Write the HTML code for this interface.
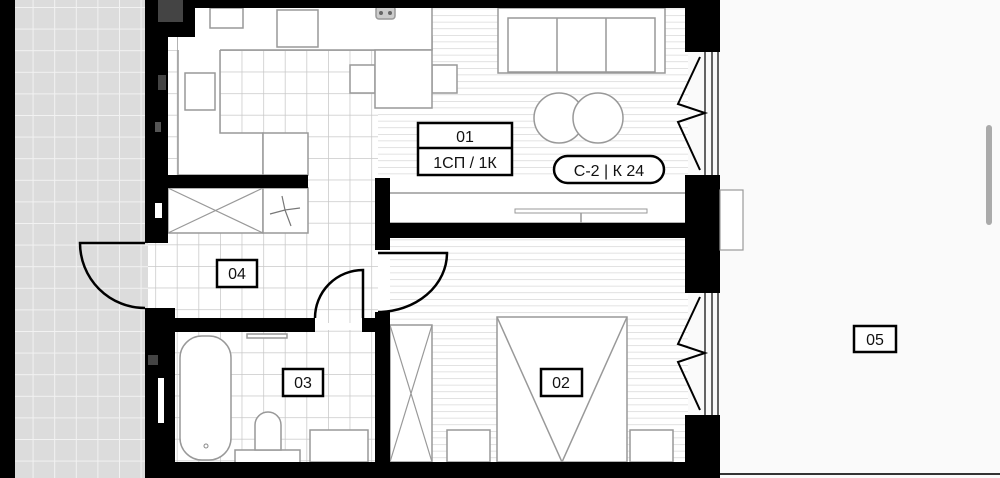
<!DOCTYPE html>
<html><head><meta charset="utf-8"><style>
html,body{margin:0;padding:0;background:#fafafa;overflow:hidden}
svg{display:block}
text{font-family:"Liberation Sans",sans-serif;fill:#111}
</style></head><body>
<svg width="1000" height="478" viewBox="0 0 1000 478" xmlns="http://www.w3.org/2000/svg">
<defs>
<pattern id="grid" x="11" y="7" width="21.6" height="21.6" patternUnits="userSpaceOnUse">
<rect width="21.6" height="21.6" fill="#dcdcdc"/>
<path d="M0 0H21.6M0 0V21.6" stroke="#f2f2f2" stroke-width="2"/>
</pattern>
<pattern id="tile" x="220" y="50" width="21.6" height="21.6" patternUnits="userSpaceOnUse">
<rect width="21.6" height="21.6" fill="#fff"/>
<path d="M0 0H21.6M0 0V21.6" stroke="#c8c8c8" stroke-width="1.5"/>
</pattern>
<pattern id="wood" x="0" y="2" width="10" height="6.6" patternUnits="userSpaceOnUse">
<rect width="10" height="6.6" fill="#fff"/>
<path d="M0 0H10" stroke="#cfcfcf" stroke-width="1.2"/>
</pattern>
</defs>
<rect width="1000" height="478" fill="#fafafa"/>
<!-- left exterior -->
<rect x="0" y="0" width="15" height="478" fill="#000"/>
<rect x="15" y="0" width="133" height="478" fill="url(#grid)"/>
<!-- apartment interior base -->
<rect x="148" y="8" width="540" height="460" fill="#fff"/>
<rect x="168" y="50" width="210" height="190" fill="url(#tile)"/>
<rect x="148" y="233" width="230" height="90" fill="url(#tile)"/>
<rect x="175" y="330" width="200" height="135" fill="url(#tile)"/>
<rect x="378" y="8" width="310" height="172" fill="url(#wood)"/>
<rect x="390" y="238" width="298" height="226" fill="url(#wood)"/>
<!-- kitchen -->
<g fill="#fff" stroke="#999" stroke-width="1.5">
<path d="M178 37 H432 V50 H220 V133 H263 V175 H178 Z"/>
<rect x="178" y="8" width="254" height="42" stroke="none"/>
<path d="M178 37 V8 M432 8 V50 M220 50 H432"/>
<rect x="210" y="8" width="33" height="20"/>
<rect x="277" y="10" width="41" height="37"/>
<rect x="185" y="73" width="30" height="37"/>
<rect x="263" y="133" width="45" height="42"/>
<rect x="350" y="65" width="25" height="28"/>
<rect x="432" y="65" width="25" height="28"/>
<rect x="375" y="50" width="57" height="58"/>
<rect x="376" y="6" width="19" height="13" rx="3" fill="#ccc"/>
</g>
<circle cx="381" cy="13" r="2" fill="#666"/><circle cx="390" cy="13" r="2" fill="#666"/>
<!-- sofa -->
<g fill="#fff" stroke="#999" stroke-width="1.5">
<rect x="498" y="8" width="167" height="65"/>
<rect x="508" y="18" width="147" height="54"/>
<path d="M557 18V72M606 18V72"/>
<circle cx="559" cy="118" r="25"/>
<circle cx="598" cy="118" r="25"/>
</g>
<!-- wardrobe strip living -->
<rect x="388" y="193" width="300" height="30" fill="#fff" stroke="#999" stroke-width="1.5"/>
<rect x="515" y="209" width="132" height="4" fill="#fff" stroke="#999"/>
<path d="M581 213V223" stroke="#999" stroke-width="1.5"/>
<!-- storage -->
<rect x="168" y="188" width="95" height="45" fill="#fff" stroke="#999" stroke-width="1.5"/>
<path d="M168 188L263 233M263 188L168 233" stroke="#999" stroke-width="1.2"/>
<rect x="263" y="188" width="45" height="45" fill="#fff" stroke="#999" stroke-width="1.5"/>
<path d="M282 196 L285 210 L300 208 M270 214 L285 210 L291 226" fill="none" stroke="#777" stroke-width="1.2"/>
<!-- bathroom fixtures -->
<g fill="#fff" stroke="#999" stroke-width="1.5">
<rect x="180" y="336" width="51" height="124" rx="22"/>
<rect x="235" y="450" width="65" height="13"/>
<path d="M255 450V425a13 13 0 0 1 26 0V450Z"/>
<rect x="310" y="430" width="58" height="32"/>
<rect x="247" y="334" width="40" height="4"/>
</g>
<circle cx="206" cy="446" r="2" fill="none" stroke="#888"/>
<!-- bedroom -->
<g fill="#fff" stroke="#999" stroke-width="1.5">
<rect x="390" y="325" width="42" height="137"/>
<path d="M390 325L432 462M432 325L390 462" stroke-width="1.2"/>
<rect x="447" y="430" width="43" height="32"/>
<rect x="630" y="430" width="43" height="32"/>
<rect x="497" y="317" width="130" height="145"/>
<path d="M497 317L562 462L627 317" fill="none"/>
</g>
<!-- walls -->
<g fill="#000">
<rect x="190" y="0" width="498" height="8"/>
<rect x="145" y="0" width="23" height="243"/>
<rect x="168" y="0" width="27" height="37"/>
<rect x="145" y="308" width="30" height="170"/>
<rect x="168" y="175" width="140" height="13"/>
<rect x="168" y="318" width="147" height="14"/>
<rect x="362" y="318" width="16" height="14"/>
<rect x="375" y="178" width="15" height="72"/>
<rect x="375" y="312" width="15" height="166"/>
<rect x="375" y="223" width="313" height="15"/>
<rect x="175" y="462" width="513" height="16"/>
<rect x="685" y="0" width="35" height="52"/>
<rect x="685" y="175" width="35" height="118"/>
<rect x="685" y="415" width="35" height="63"/>
</g>
<rect x="158" y="0" width="25" height="22" fill="#444"/>
<rect x="158" y="75" width="8" height="15" fill="#444"/>
<rect x="155" y="122" width="6" height="10" fill="#555"/>
<rect x="155" y="203" width="7" height="15" fill="#fff"/>
<rect x="148" y="355" width="10" height="10" fill="#444"/>
<rect x="158" y="378" width="6" height="45" fill="#fff"/>
<!-- windows -->
<g stroke="#000" stroke-width="1.2" fill="none">
<path d="M705 52V175M712 52V175M718 52V175M705 293V415M712 293V415M718 293V415"/>
<path stroke-width="2" d="M700 57L678 104L705 113L678 122L700 170"/>
<path stroke-width="2" d="M700 297L678 344L705 353L678 362L700 410"/>
</g>
<!-- doors -->
<g stroke="#000" stroke-width="2.5" fill="none">
<path d="M145 243H80A65 65 0 0 0 145 308"/>
<path d="M363 318V270A48 48 0 0 0 315 318"/>
<path d="M378 253H447A69 59 0 0 1 378 312"/>
</g>
<!-- exterior right -->
<rect x="720" y="190" width="23" height="60" fill="#fff" stroke="#999" stroke-width="1.2"/>
<rect x="720" y="473" width="280" height="2" fill="#333"/>
<rect x="986" y="125" width="6" height="100" rx="3" fill="#aaa"/>
<!-- labels -->
<g fill="#fff" stroke="#000" stroke-width="2.5">
<rect x="418" y="123" width="94" height="52"/>
<rect x="217" y="260" width="40" height="27"/>
<rect x="283" y="369" width="40" height="27"/>
<rect x="541" y="369" width="41" height="27"/>
<rect x="854" y="326" width="42" height="26"/>
<rect x="554" y="156" width="110" height="27" rx="13.5"/>
</g>
<path d="M418 148H512" stroke="#000" stroke-width="2.5"/>
<g font-size="16" text-anchor="middle">
<text x="465" y="142">01</text>
<text x="465" y="168">1СП / 1К</text>
<text x="237" y="279">04</text>
<text x="303" y="388">03</text>
<text x="561" y="388">02</text>
<text x="875" y="345">05</text>
<text x="609" y="176">С-2 |  К 24</text>
</g>
</svg>
</body></html>
